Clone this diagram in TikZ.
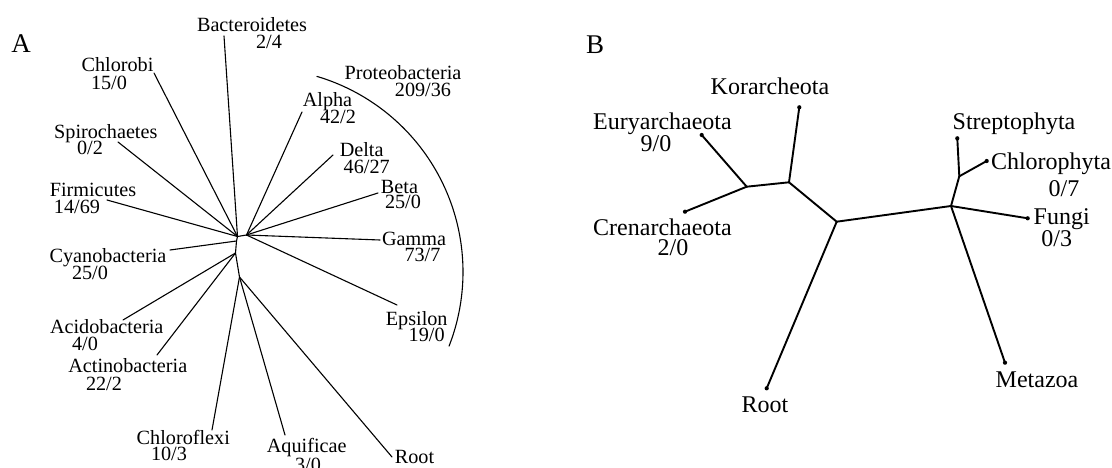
\documentclass[tikz,border=0pt]{standalone}
\usepackage{fontspec}
\setmainfont{Liberation Serif}
\begin{document}
\begin{tikzpicture}[x=1pt,y=-1pt,
  lblA/.style={font=\fontsize{20.2}{22}\selectfont, inner sep=0pt, anchor=base, text height=0.68em, text depth=0pt},
  lblB/.style={font=\fontsize{24}{26}\selectfont, inner sep=0pt, anchor=base, text height=0.68em, text depth=0pt},
  panel/.style={font=\fontsize{27}{30}\selectfont, inner sep=0pt, anchor=base},
  edgeA/.style={line width=1.1pt, line cap=round, line join=round},
  edgeB/.style={line width=1.9pt, line cap=round, line join=round},
  leafdot/.style={circle, fill, inner sep=0pt, minimum size=4.2pt}]
\useasboundingbox (0,0) rectangle (1112,468);
\clip (0,0) rectangle (1112,468);
\fill[white] (0,0) rectangle (1112,468);

% ---------------- Panel A ----------------
\node[panel] (pA) at (21,53) {A};
% internal nodes
\coordinate (c0) at (237.5,236.5);
\coordinate (c1) at (236.5,241);
\coordinate (c2) at (235.5,253);
\coordinate (c3) at (239.5,277);
\coordinate (p0) at (246.5,235);
% leaves
\coordinate (bac) at (224,36);
\coordinate (chb) at (154,73);
\coordinate (spi) at (118,142);
\coordinate (fir) at (107,200);
\coordinate (cya) at (170,250);
\coordinate (aci) at (123,320);
\coordinate (act) at (157,355);
\coordinate (chf) at (212,430);
\coordinate (aqu) at (285,435);
\coordinate (rtA) at (392,457);
\coordinate (alp) at (302,112);
\coordinate (del) at (333,155);
\coordinate (bet) at (378,193);
\coordinate (gam) at (380,240);
\coordinate (eps) at (397,305);

\draw[edgeA] (c0) -- (c1) -- (c2) -- (c3);
\draw[edgeA] (c0) -- (p0);
\foreach \l in {bac,chb,spi,fir} \draw[edgeA] (c0) -- (\l);
\draw[edgeA] (c1) -- (cya);
\draw[edgeA] (c2) -- (aci);
\draw[edgeA] (c2) -- (act);
\foreach \l in {chf,aqu,rtA} \draw[edgeA] (c3) -- (\l);
\foreach \l in {alp,del,bet,gam,eps} \draw[edgeA] (p0) -- (\l);
% Proteobacteria arc
\draw[edgeA] plot[domain=-73.5:21.3, samples=60, smooth] ({259+204*cos(\x)},{272+204*sin(\x)});

% labels A
\node[lblA] (tBac) at (252,32) {Bacteroidetes};
\node[lblA] (nBac) at (269,48.3) {2/4};
\node[lblA] (tChb) at (117.5,71.7) {Chlorobi};
\node[lblA] (nChb) at (109,89.3) {15/0};
\node[lblA] (tSpi) at (105.8,138.3) {Spirochaetes};
\node[lblA] (nSpi) at (90,155) {0/2};
\node[lblA] (tFir) at (93,196.7) {Firmicutes};
\node[lblA] (nFir) at (77,213.3) {14/69};
\node[lblA] (tCya) at (108,262.3) {Cyanobacteria};
\node[lblA] (nCya) at (90,279.3) {25/0};
\node[lblA] (tAci) at (106.7,333.3) {Acidobacteria};
\node[lblA] (nAci) at (85,350) {4/0};
\node[lblA] (tAct) at (127.8,372.7) {Actinobacteria};
\node[lblA] (nAct) at (104,390) {22/2};
\node[lblA] (tChf) at (183.3,444.3) {Chloroflexi};
\node[lblA] (nChf) at (169,460.7) {10/3};
\node[lblA] (tPro) at (403,80) {Proteobacteria};
\node[lblA] (nPro) at (423,96.7) {209/36};
\node[lblA] (tAlp) at (327.5,106.7) {Alpha};
\node[lblA] (nAlp) at (338,124) {42/2};
\node[lblA] (tDel) at (361.7,156.7) {Delta};
\node[lblA] (nDel) at (366.7,173.3) {46/27};
\node[lblA] (tBet) at (399.5,193.3) {Beta};
\node[lblA] (nBet) at (403,208.3) {25/0};
\node[lblA] (tGam) at (414,245) {Gamma};
\node[lblA] (nGam) at (422.5,261.7) {73/7};
\node[lblA] (tEps) at (416.7,325) {Epsilon};
\node[lblA] (nEps) at (426.7,341) {19/0};
\node[lblA] (tAqu) at (306.7,452.7) {Aquificae};
\node[lblA] (nAqu) at (308,471) {3/0};
\node[lblA] (tRtA) at (414.5,463.3) {Root};

% ---------------- Panel B ----------------
\node[panel] (pB) at (595,53.3) {B};
\coordinate (n1) at (746.7,186.7);
\coordinate (n2) at (789,182.3);
\coordinate (n3) at (836.7,221.7);
\coordinate (n4) at (951,206);
\coordinate (n5) at (959.3,176.3);
\node[leafdot] (eury) at (701.7,135) {};
\node[leafdot] (cren) at (685,211.7) {};
\node[leafdot] (kor) at (799.3,107.3) {};
\node[leafdot] (rtB) at (766.7,388.3) {};
\node[leafdot] (meta) at (1005,362.7) {};
\node[leafdot] (fungi) at (1027.7,218.3) {};
\node[leafdot] (strep) at (957.3,138.3) {};
\node[leafdot] (chlo) at (986.7,161) {};

\draw[edgeB] (eury.center) -- (n1);
\draw[edgeB] (cren.center) -- (n1);
\draw[edgeB] (n1) -- (n2);
\draw[edgeB] (kor.center) -- (n2);
\draw[edgeB] (n2) -- (n3);
\draw[edgeB] (n3) -- (rtB.center);
\draw[edgeB] (n3) -- (n4);
\draw[edgeB] (n4) -- (meta.center);
\draw[edgeB] (n4) -- (fungi.center);
\draw[edgeB] (n4) -- (n5);
\draw[edgeB] (n5) -- (strep.center);
\draw[edgeB] (n5) -- (chlo.center);

\node[lblB] (tKor) at (770,95) {Korarcheota};
\node[lblB] (tEur) at (662.5,130) {Euryarchaeota};
\node[lblB] (nEur) at (656,151.7) {9/0};
\node[lblB] (tCre) at (662.5,235) {Crenarchaeota};
\node[lblB] (nCre) at (673,255) {2/0};
\node[lblB] (tStr) at (1014,129.3) {Streptophyta};
\node[lblB] (tChl) at (1051,169.3) {Chlorophyta};
\node[lblB] (nChl) at (1064,196.7) {0/7};
\node[lblB] (tFun) at (1061.7,225) {Fungi};
\node[lblB] (nFun) at (1056.7,246.7) {0/3};
\node[lblB] (tRtB) at (765,412.7) {Root};
\node[lblB] (tMet) at (1037,387.3) {Metazoa};
\end{tikzpicture}
\end{document}
